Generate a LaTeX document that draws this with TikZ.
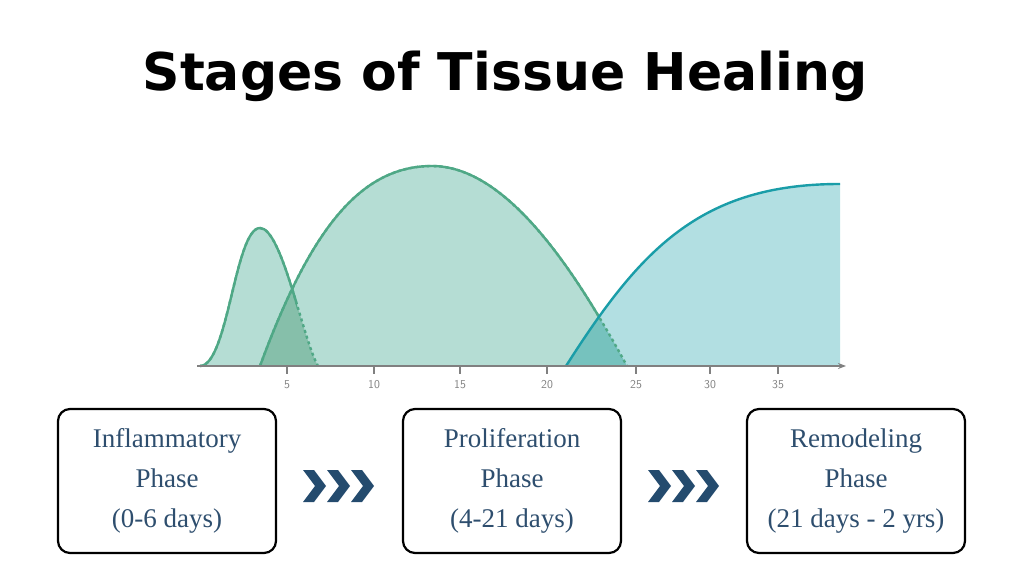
\documentclass[tikz,border=0pt]{standalone}
\usepackage{fontspec}
\setmainfont{Liberation Serif}
\newfontfamily\titlefont{DejaVu Sans}
\usetikzlibrary{arrows.meta}
\definecolor{inflfill}{HTML}{B5DDD4}
\definecolor{inflline}{HTML}{4FA886}
\definecolor{remofill}{HTML}{B2DFE2}
\definecolor{remoline}{HTML}{1A9DA8}
\definecolor{overgreen}{HTML}{86BFAA}
\definecolor{overteal}{HTML}{76C2BE}
\definecolor{phasetext}{HTML}{2E4E6E}
\definecolor{chevcol}{HTML}{244B6E}
\tikzset{
  phasebox/.style={draw=black, line width=2.2pt, rounded corners=12pt, minimum width=218pt, minimum height=144pt, align=center, text=phasetext, font=\fontsize{27}{40}\selectfont},
  ticklabel/.style={text=gray, font=\sffamily\fontsize{12}{14}\selectfont},
  curve/.style={line width=2.4pt},
}
\newcommand{\chevron}[1]{\fill[chevcol] (#1,470) -- ++(11,0) -- ++(12,16) -- ++(-12,16) -- ++(-11,0) -- ++(12,-16) -- cycle;}
\begin{document}
\begin{tikzpicture}[x=1pt, y=-1pt]
  \useasboundingbox (0,0) rectangle (1024,569);
  % title
  \node (title) at (505,76) {\titlefont\bfseries\fontsize{52}{60}\selectfont Stages of Tissue Healing};
  % curves
  \def\inflpath{(200,366) .. controls (228,366) and (235,228) .. (260,228) .. controls (282,228) and (303,340) .. (318,366) -- cycle}
  \def\prolpath{(260,366) .. controls (310,230) and (360,166) .. (432,166) .. controls (510,166) and (580,280) .. (627,366) -- cycle}
  \def\remopath{(566,366) .. controls (640,250) and (700,184) .. (840,184) -- (840,366) -- cycle}
  \fill[inflfill] \inflpath;
  \fill[inflfill] \prolpath;
  \fill[remofill] \remopath;
  \begin{scope}
    \clip \inflpath;
    \fill[overgreen] \prolpath;
  \end{scope}
  \begin{scope}
    \clip \prolpath;
    \fill[overteal] \remopath;
  \end{scope}
  % outlines
  \draw[inflline, curve, dashed] (200,366) .. controls (228,366) and (235,228) .. (260,228) .. controls (282,228) and (303,340) .. (318,366);
  \draw[inflline, curve, dashed] (260,366) .. controls (310,230) and (360,166) .. (432,166) .. controls (510,166) and (580,280) .. (627,366);
  \begin{scope}
    \clip (0,0) rectangle (297,400);
    \draw[inflline, curve] (200,366) .. controls (228,366) and (235,228) .. (260,228) .. controls (282,228) and (303,340) .. (318,366);
  \end{scope}
  \begin{scope}
    \clip (0,0) rectangle (599,400);
    \draw[inflline, curve] (260,366) .. controls (310,230) and (360,166) .. (432,166) .. controls (510,166) and (580,280) .. (627,366);
  \end{scope}
  \draw[remoline, curve] (566,366) .. controls (640,250) and (700,184) .. (840,184);
  % axis
  \draw[gray, line width=2pt, -{Stealth[length=8pt]}] (197,366) -- (846,366);
  \foreach \x/\lab in {287/5, 374/10, 460/15, 547/20, 636/25, 710/30, 778/35} {
    \draw[gray, line width=1.6pt] (\x,366) -- (\x,374);
    \node[ticklabel] at (\x,385) {\lab};
  }
  % phases
  \node[phasebox] (infl) at (167,481) {Inflammatory\\Phase\\(0-6 days)};
  \node[phasebox] (prol) at (512,481) {Proliferation\\Phase\\(4-21 days)};
  \node[phasebox] (remo) at (856,481) {Remodeling\\Phase\\(21 days - 2 yrs)};
  \foreach \x in {303,327,351} {\chevron{\x}}
  \foreach \x in {648,672,696} {\chevron{\x}}
\end{tikzpicture}
\end{document}
